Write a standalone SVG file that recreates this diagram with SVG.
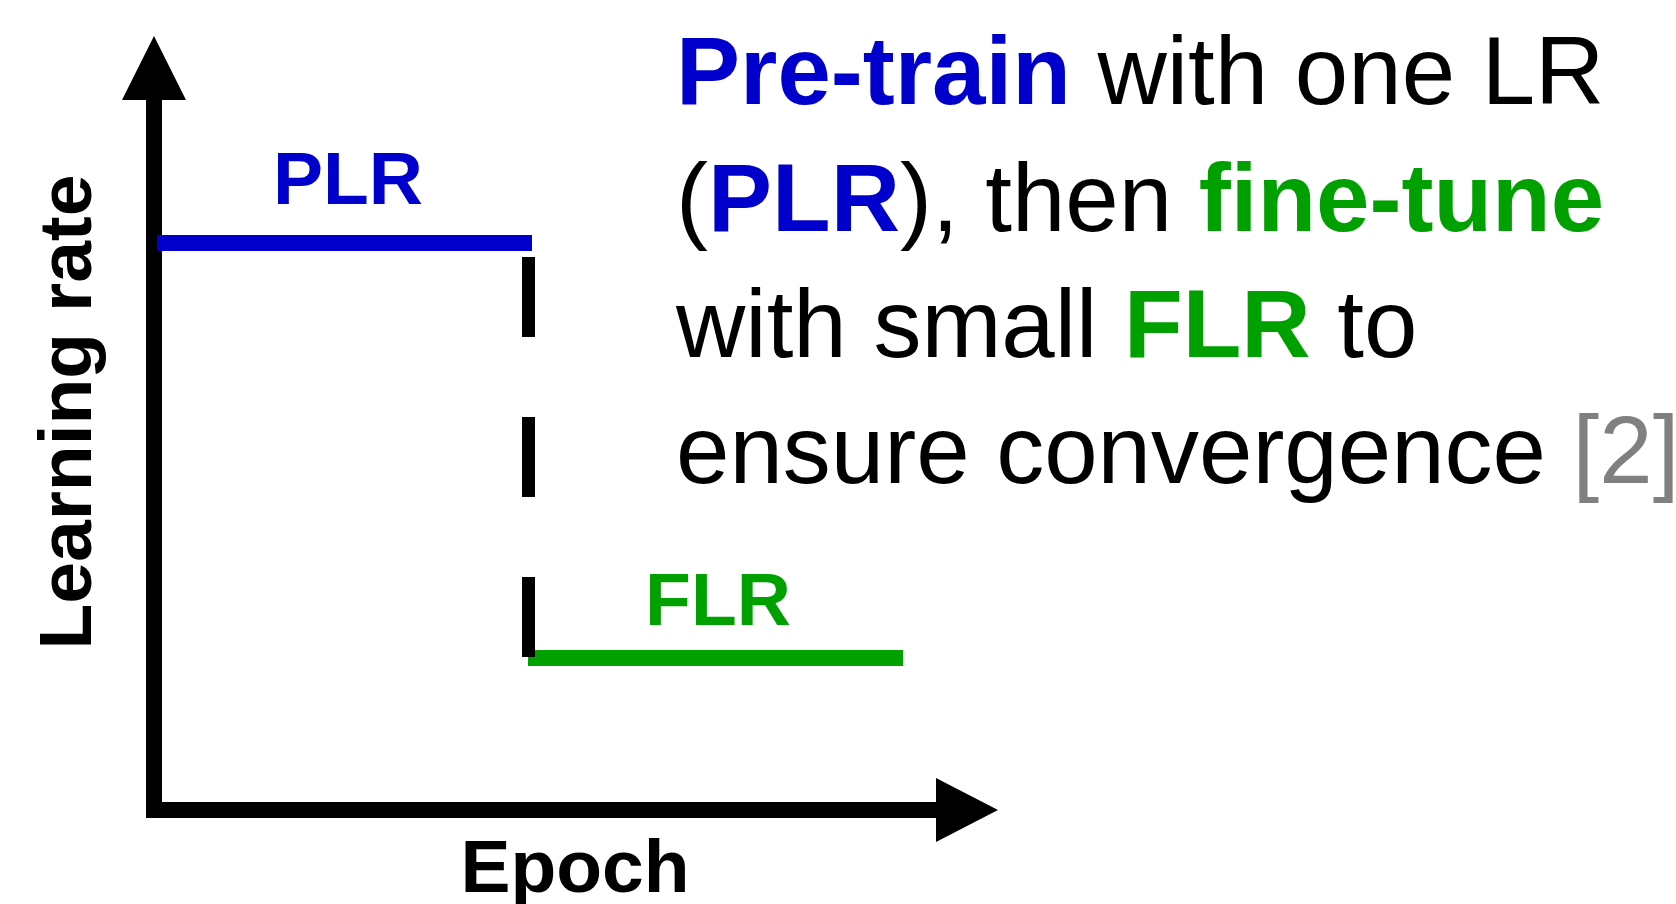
<svg xmlns="http://www.w3.org/2000/svg" width="1676" height="904" viewBox="0 0 1676 904">
  <style>
    text { font-family: "Liberation Sans", Arial, Helvetica, sans-serif; }
    .b { font-weight: bold; }
    .axis-lbl { font-size: 75px; font-weight: bold; fill: #000; }
    .seg-lbl { font-size: 75px; font-weight: bold; }
    .note { font-size: 96px; fill: #000; }
    .blue { fill: #0000cc; }
    .green { fill: #00a000; }
    .gray { fill: #808080; }
  </style>
  <rect width="1676" height="904" fill="#fff"/>

  <!-- axes -->
  <g id="axes" fill="#000">
    <rect x="146" y="98" width="16" height="720"/>
    <polygon points="154,36 186,100 122,100"/>
    <rect x="146" y="802" width="792" height="16"/>
    <polygon points="998,810 936,778 936,842"/>
  </g>

  <!-- learning-rate schedule -->
  <g id="connectors">
    <rect id="plr-level" x="157" y="235" width="375" height="16" fill="#0000cc"/>
    <rect id="flr-level" x="528" y="650" width="375" height="16" fill="#00a000"/>
    <g id="drop" fill="#000">
      <rect x="522" y="257" width="13" height="80"/>
      <rect x="522" y="417" width="13" height="80"/>
      <rect x="522" y="577" width="13" height="80"/>
    </g>
  </g>

  <g id="label-plr">
    <text class="seg-lbl blue" x="348" y="204" text-anchor="middle">PLR</text>
  </g>
  <g id="label-flr">
    <text class="seg-lbl green" x="718" y="625" text-anchor="middle">FLR</text>
  </g>

  <g id="label-epoch">
    <text class="axis-lbl" x="575" y="892" text-anchor="middle">Epoch</text>
  </g>
  <g id="label-lr">
    <text class="axis-lbl" transform="translate(91,412) rotate(-90)" text-anchor="middle">Learning rate</text>
  </g>

  <!-- explanation -->
  <g id="note">
    <text class="note" x="676" y="104"><tspan class="b blue">Pre-train</tspan> with one LR</text>
    <text class="note" x="676" y="231">(<tspan class="b blue">PLR</tspan>), then <tspan class="b green">fine-tune</tspan></text>
    <text class="note" x="676" y="357">with small <tspan class="b green">FLR</tspan> to</text>
    <text class="note" x="676" y="483">ensure convergence <tspan class="gray">[2]</tspan></text>
  </g>
</svg>
